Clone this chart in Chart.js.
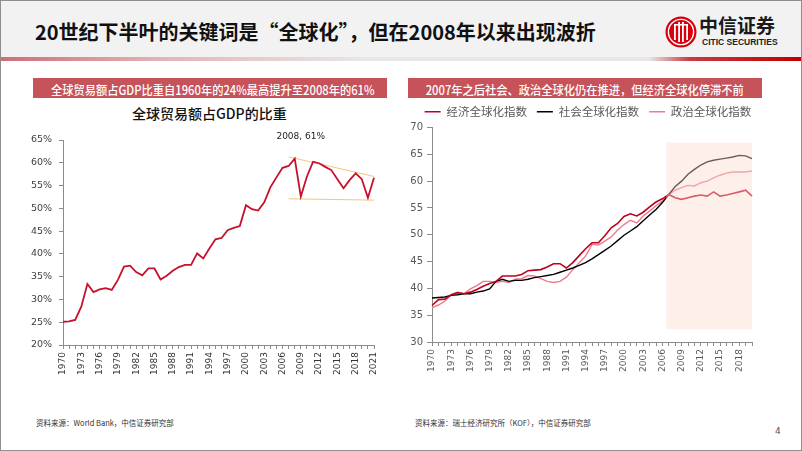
<!DOCTYPE html>
<html>
<head>
<meta charset="utf-8">
<script src="https://cdn.jsdelivr.net/npm/chart.js@4.4.1/dist/chart.umd.min.js"></script>
<style>
  html, body { margin: 0; padding: 0; background: #fff; }
  #page { position: relative; width: 802px; height: 451px; overflow: hidden; font-family: "Noto Sans CJK SC", sans-serif; }
  #frame { position: absolute; left: 0; top: 0; width: 802px; height: 451px; box-sizing: border-box; border: 1px solid #8f8f8f; pointer-events: none; }
  #head { position: absolute; left: 0; top: 0; width: 802px; height: 57px; background: #f2f2f2; }
  #rule { position: absolute; left: 0; top: 57px; width: 802px; height: 4px;
          background: linear-gradient(to right, #cf6e74 0%, #e2b4b6 20%, #e8e6e6 45%, #e8e6e6 81%, #c83a40 86%, #c00000 100%); }
  #title { position: absolute; left: 35px; top: 18px; font-size: 20px; font-weight: 700; color: #111; line-height: 28px; white-space: nowrap; }
  #logo { position: absolute; left: 665px; top: 16px; }
  #brand { position: absolute; left: 699px; top: 12px; font-size: 19px; font-weight: 700; color: #1a1a1a; line-height: 26px; white-space: nowrap; }
  #brandEn { position: absolute; left: 702px; top: 37px; font-family: "Liberation Sans Narrow", "Liberation Sans", sans-serif; font-size: 8.5px; font-weight: 700; color: #222; white-space: nowrap; }
  .bar { position: absolute; top: 78px; width: 354px; height: 20px; background: #c6525a; color: #fff; line-height: 20px; text-align: center; white-space: nowrap; }
  .bar span { display: inline-block; font-size: 12.5px; font-weight: 500; transform: scaleX(0.9); }
  #chartTitle { position: absolute; left: 132px; top: 104px; font-size: 14px; font-weight: 500; color: #111; line-height: 18px; white-space: nowrap; }
  .src { position: absolute; top: 417px; font-size: 7.5px; color: #333; white-space: nowrap; }
  #pageNo { position: absolute; left: 775px; top: 426px; font-family: "DejaVu Sans", sans-serif; font-size: 9px; color: #555; }
  canvas { position: absolute; }
</style>
</head>
<body>
<div id="page">
  <div id="head"></div>
  <div id="rule"></div>
  <div id="title">20世纪下半叶的关键词是“全球化”，但在2008年以来出现波折</div>
  <svg id="logo" width="32" height="32" viewBox="0 0 32 32">
    <circle cx="16" cy="16" r="15.5" fill="#d7000f"/>
    <circle cx="16" cy="16" r="12.6" fill="none" stroke="#fff" stroke-width="1.4"/>
    <rect x="9" y="8" width="1.8" height="16" fill="#fff"/>
    <rect x="13.2" y="6" width="1.8" height="20" fill="#fff"/>
    <rect x="17" y="6" width="1.8" height="20" fill="#fff"/>
    <rect x="21.2" y="8" width="1.8" height="16" fill="#fff"/>
    <rect x="9" y="8" width="14" height="1.6" fill="#fff"/>
  </svg>
  <div id="brand">中信证券</div>
  <div id="brandEn">CITIC SECURITIES</div>

  <div class="bar" style="left:33px"><span>全球贸易额占GDP比重自1960年的24%最高提升至2008年的61%</span></div>
  <div class="bar" style="left:408px"><span>2007年之后社会、政治全球化仍在推进，但经济全球化停滞不前</span></div>
  <div id="chartTitle">全球贸易额占GDP的比重</div>

  <canvas id="tradeChart" width="370" height="265" style="left:20px;top:120px"></canvas>
  <canvas id="kofChart" width="371" height="285" style="left:400px;top:96px"></canvas>

  <div class="src" style="left:36px">资料来源：World Bank，中信证券研究部</div>
  <div class="src" style="left:415px">资料来源：瑞士经济研究所（KOF），中信证券研究部</div>
  <div id="pageNo">4</div>
  <div id="frame"></div>
</div>

<script>
// ---- left chart: world trade as % of GDP ----
const tradeYears = ['1970','1971','1972','1973','1974','1975','1976','1977','1978','1979',
  '1980','1981','1982','1983','1984','1985','1986','1987','1988','1989',
  '1990','1991','1992','1993','1994','1995','1996','1997','1998','1999',
  '2000','2001','2002','2003','2004','2005','2006','2007','2008','2009',
  '2010','2011','2012','2013','2014','2015','2016','2017','2018','2019',
  '2020','2021'];
const tradeShare = [25.1, 25.2, 25.5, 28.4, 33.4, 31.6, 32.2, 32.5, 32.1, 34.3,
  37.2, 37.4, 36.0, 35.3, 36.8, 36.8, 34.4, 35.2, 36.3, 37.1,
  37.6, 37.6, 40.1, 39.0, 41.2, 43.2, 43.5, 45.2, 45.7, 46.1,
  50.7, 49.8, 49.5, 51.3, 54.6, 56.8, 58.9, 59.3, 60.9, 52.6,
  57.0, 60.2, 59.9, 59.1, 58.4, 56.4, 54.4, 56.2, 57.7, 56.4,
  52.3, 56.7];
const tradeTicks = [20, 65, 5];
// trend band after 2008 (start year, end year, start value, end value)
const upperTrend = ['2007', '2021', 61.3, 57.0];
const lowerTrend = ['2007', '2021', 52.1, 51.8];
const peakYear = '2008', peakValue = 61, peakLabel = '2008, 61%';

// ---- right chart: KOF globalisation indices ----
const kofYears = ['1970','1971','1972','1973','1974','1975','1976','1977','1978','1979',
  '1980','1981','1982','1983','1984','1985','1986','1987','1988','1989',
  '1990','1991','1992','1993','1994','1995','1996','1997','1998','1999',
  '2000','2001','2002','2003','2004','2005','2006','2007','2008','2009',
  '2010','2011','2012','2013','2014','2015','2016','2017','2018','2019',
  '2020'];
const economicIdx = [36.8, 37.9, 38.0, 38.8, 39.2, 39.0, 39.3, 39.8, 40.4, 40.9,
  41.3, 42.3, 42.3, 42.3, 42.6, 43.3, 43.4, 43.5, 44.0, 44.6,
  44.6, 43.8, 44.8, 46.1, 47.4, 48.5, 48.5, 49.8, 51.3, 52.1,
  53.4, 53.9, 53.5, 54.2, 55.2, 56.1, 56.7, 57.5, 56.9, 56.6,
  56.9, 57.2, 57.4, 57.2, 58.0, 57.2, 57.4, 57.7, 58.0, 58.3,
  57.2];
const socialIdx = [38.2, 38.3, 38.4, 38.7, 38.8, 39.0, 39.0, 39.3, 39.5, 39.9,
  41.3, 41.7, 41.3, 41.5, 41.5, 41.7, 42.0, 42.2, 42.4, 42.6,
  43.0, 43.4, 43.8, 44.3, 44.8, 45.5, 46.3, 47.1, 47.9, 48.9,
  49.9, 50.7, 51.5, 52.6, 53.7, 54.7, 56.0, 57.5, 59.0, 60.0,
  61.3, 62.2, 63.0, 63.6, 63.9, 64.1, 64.3, 64.5, 64.8, 64.7,
  64.2];
const politicalIdx = [36.4, 36.9, 37.6, 38.8, 39.3, 39.0, 39.9, 40.5, 41.3, 41.3,
  41.1, 41.3, 41.1, 41.7, 41.8, 42.4, 42.3, 41.8, 41.3, 41.1,
  41.3, 42.1, 43.5, 44.8, 46.0, 48.2, 48.1, 48.8, 49.6, 50.9,
  51.9, 52.7, 52.2, 53.5, 54.4, 55.4, 56.3, 57.5, 58.3, 58.8,
  59.2, 59.1, 59.7, 60.0, 60.6, 61.1, 61.5, 61.7, 61.7, 61.7,
  61.9];
const kofTicks = [30, 70, 5];
const kofNames = ['经济全球化指数', '社会全球化指数', '政治全球化指数'];
const kofColors = ['#c00020', '#000000', '#f07b8a'];
// highlighted period: years and value range of the shaded box
const shadeYears = [2006.6, 2020];
const shadeRange = [32.4, 67.2];

Chart.defaults.font.family = '"DejaVu Sans", sans-serif';
Chart.defaults.animation = false;

function trendSeries(years, t) {
    return years.map(y => y === t[0] ? t[2] : (y === t[1] ? t[3] : null));
}

function yearAxis(years, color, height) {
    return {
        type: 'category',
        offset: false,
        border: { display: true, color: '#8c8c8c' },
        grid: { display: true, drawOnChartArea: false, drawTicks: true, tickLength: 4, color: '#8c8c8c' },
        ticks: {
            autoSkip: false, maxRotation: 90, minRotation: 90, padding: 3,
            color, font: { size: 9 },
            callback: (v, i) => i % 3 === 0 ? years[i] : ''
        },
        afterFit: s => { s.height = height; }
    };
}

const peakNote = {
    id: 'peakNote',
    afterDatasetsDraw(chart) {
        const { ctx, scales } = chart;
        const x = scales.x.getPixelForValue(tradeYears.indexOf(peakYear));
        const y = scales.y.getPixelForValue(peakValue);
        ctx.save();
        ctx.font = '9px "DejaVu Sans"';
        ctx.fillStyle = '#222';
        ctx.textAlign = 'center';
        ctx.textBaseline = 'middle';
        ctx.fillText(peakLabel, x + 6, y - 22);
        ctx.restore();
    }
};

new Chart(document.getElementById('tradeChart'), {
    type: 'line',
    data: {
        labels: tradeYears,
        datasets: [
            { data: tradeShare, borderColor: '#c8102e', borderWidth: 1.8, pointRadius: 0, tension: 0 },
            { data: trendSeries(tradeYears, upperTrend), borderColor: '#f6c47a', borderWidth: 1, pointRadius: 0, spanGaps: true, clip: false },
            { data: trendSeries(tradeYears, lowerTrend), borderColor: '#f6c47a', borderWidth: 1, pointRadius: 0, spanGaps: true, clip: false }
        ]
    },
    options: {
        responsive: false,
        devicePixelRatio: 1,
        layout: { padding: { top: 20, right: 16, left: 0, bottom: 0 } },
        plugins: { legend: { display: false }, tooltip: { enabled: false } },
        scales: {
            x: yearAxis(tradeYears, '#333', 40),
            y: {
                min: tradeTicks[0], max: tradeTicks[1],
                border: { display: true, color: '#8c8c8c' },
                grid: { display: true, drawOnChartArea: false, tickLength: 4, color: '#8c8c8c' },
                ticks: { stepSize: tradeTicks[2], padding: 7, color: '#404040', font: { size: 9.5 }, callback: v => v + '%' },
                afterFit: s => { s.width = 43; }
            }
        }
    },
    plugins: [peakNote]
});

const shadeBox = {
    id: 'shadeBox',
    afterDatasetsDraw(chart) {
        const { ctx, scales } = chart;
        const first = Number(kofYears[0]);
        const x0 = scales.x.getPixelForValue(shadeYears[0] - first);
        const x1 = scales.x.getPixelForValue(shadeYears[1] - first);
        const y0 = scales.y.getPixelForValue(shadeRange[1]);
        const y1 = scales.y.getPixelForValue(shadeRange[0]);
        ctx.save();
        ctx.fillStyle = 'rgba(250, 219, 207, 0.42)';
        ctx.fillRect(x0, y0, x1 - x0, y1 - y0);
        ctx.restore();
    }
};

// nudge the legend so it sits over the plot, as in the slide
const legendShift = {
    id: 'legendShift',
    afterLayout(chart) {
        if (chart.legend) {
            chart.legend.left += 12;
            chart.legend.right += 12;
        }
    }
};

new Chart(document.getElementById('kofChart'), {
    type: 'line',
    data: {
        labels: kofYears,
        datasets: [
            { label: kofNames[0], data: economicIdx, borderColor: kofColors[0], borderWidth: 1.6, pointRadius: 0, tension: 0 },
            { label: kofNames[1], data: socialIdx, borderColor: kofColors[1], borderWidth: 1.4, pointRadius: 0, tension: 0 },
            { label: kofNames[2], data: politicalIdx, borderColor: kofColors[2], borderWidth: 1.4, pointRadius: 0, tension: 0 }
        ]
    },
    options: {
        responsive: false,
        devicePixelRatio: 1,
        layout: { padding: { top: 0, right: 19, left: 0, bottom: 0 } },
        plugins: {
            tooltip: { enabled: false },
            legend: {
                position: 'top',
                labels: {
                    usePointStyle: true, pointStyle: 'line', pointStyleWidth: 16,
                    padding: 10, color: '#595959',
                    font: { family: '"Noto Sans CJK SC"', size: 11.5 }
                }
            }
        },
        scales: {
            x: yearAxis(kofYears, '#595959', 39),
            y: {
                min: kofTicks[0], max: kofTicks[1],
                border: { display: true, color: '#8c8c8c' },
                grid: { display: true, drawOnChartArea: false, tickLength: 5, color: '#8c8c8c' },
                ticks: { stepSize: kofTicks[2], padding: 4, color: '#595959', font: { size: 10 } },
                afterFit: s => { s.width = 32; }
            }
        }
    },
    plugins: [shadeBox, legendShift]
});
</script>
</body>
</html>
